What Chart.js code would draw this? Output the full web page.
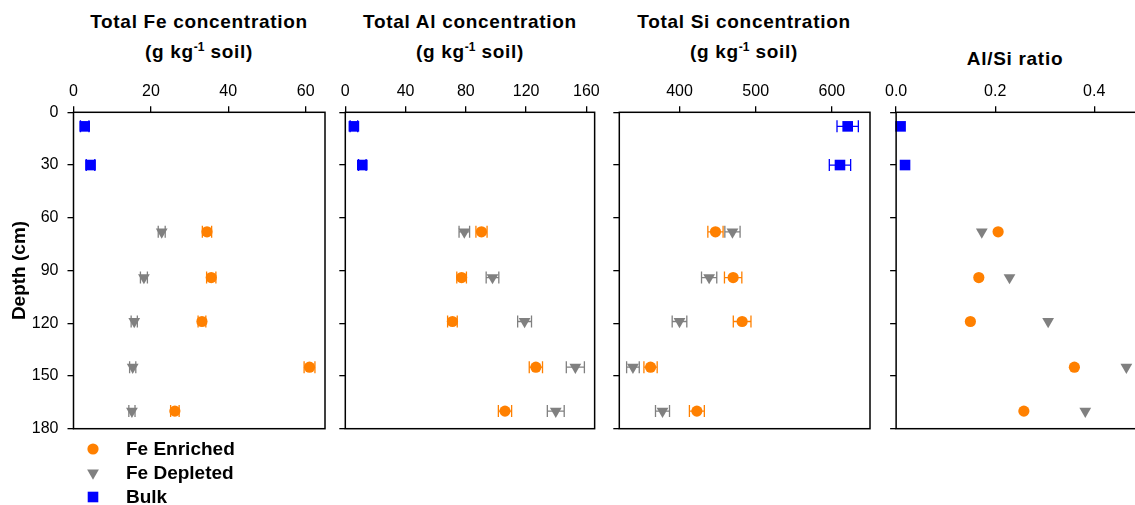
<!DOCTYPE html>
<html>
<head>
<meta charset="utf-8">
<script src="https://cdn.jsdelivr.net/npm/chart.js@4.4.1/dist/chart.umd.min.js"></script>
<style>
html,body{margin:0;padding:0;background:#fff;overflow:hidden;width:1135px;height:505px;position:relative;}
canvas{position:absolute;top:0;}
.ttl{position:absolute;font-family:"Liberation Sans",Arial,sans-serif;font-weight:bold;font-size:19px;line-height:30px;text-align:center;color:#000;white-space:nowrap;letter-spacing:0.7px;transform:translateX(-50%);}
.ttl sup{font-size:12px;line-height:0;vertical-align:7px;letter-spacing:0;}
</style>
</head>
<body>
<div class="ttl" style="left:199px;top:7px;">Total Fe concentration<br>(g kg<sup>-1</sup> soil)</div>
<div class="ttl" style="left:470px;top:7px;">Total Al concentration<br>(g kg<sup>-1</sup> soil)</div>
<div class="ttl" style="left:744px;top:7px;">Total Si concentration<br>(g kg<sup>-1</sup> soil)</div>
<div class="ttl" style="left:1015px;top:44px;">Al/Si ratio</div>
<canvas id="c1" width="335" height="505" style="left:0px;width:335px;height:505px;"></canvas>
<canvas id="c2" width="275" height="505" style="left:330px;width:275px;height:505px;"></canvas>
<canvas id="c3" width="275" height="505" style="left:605px;width:275px;height:505px;"></canvas>
<canvas id="c4" width="275" height="505" style="left:880px;width:275px;height:505px;"></canvas>
<script>
// ---------- data ----------
const seriesNames = ['Fe Enriched', 'Fe Depleted', 'Bulk'];
const depthBulk = [8, 30];
const depthSoil = [68, 94, 119, 145, 170];
const depthTicks = [0, 30, 60, 90, 120, 150, 180];

const feTicks = [0, 20, 40, 60];
const feEnriched = [34.5, 35.6, 33.2, 61.0, 26.2];
const feEnrichedErr = [1.2, 1.2, 1.0, 1.4, 1.1];
const feDepleted = [22.8, 18.2, 15.7, 15.3, 15.1];
const feDepletedErr = [0.9, 0.9, 0.8, 0.8, 0.8];
const feBulk = [2.9, 4.4];
const feBulkErr = [1.1, 1.1];

const alTicks = [0, 40, 80, 120, 160];
const alEnriched = [90.4, 77.2, 71.1, 126.5, 106.0];
const alEnrichedErr = [3.7, 3.2, 3.2, 4.4, 4.4];
const alDepleted = [79.0, 97.7, 119.0, 152.7, 139.7];
const alDepletedErr = [3.5, 4.2, 4.6, 6.0, 5.6];
const alBulk = [5.7, 11.3];
const alBulkErr = [2.5, 2.5];

const siTicks = [400, 500, 600];
const siEnriched = [447.2, 470.4, 482.2, 362.0, 422.8];
const siEnrichedErr = [10.0, 11.4, 11.6, 8.7, 9.8];
const siDepleted = [469.5, 438.9, 400.0, 338.9, 377.7];
const siDepletedErr = [10.0, 10.0, 9.6, 8.3, 9.2];
const siBulk = [620.7, 610.6];
const siBulkErr = [14, 14];

const ratioTicks = [0.0, 0.2, 0.4];
const ratioEnriched = [0.206, 0.167, 0.150, 0.360, 0.258];
const ratioDepleted = [0.173, 0.229, 0.307, 0.465, 0.382];
const ratioBulk = [0.009, 0.018];

// ---------- styles ----------
const FONT = '"Liberation Sans", Arial, sans-serif';
const ORANGE = '#FF8000', GRAY = '#808080', BLUE = '#0000FF';
const styleEnriched = {pointStyle: 'circle', pointRadius: 5.6, pointRotation: 0, backgroundColor: ORANGE, borderColor: ORANGE};
const styleDepleted = {pointStyle: 'triangle', pointRadius: 6.8, pointRotation: 180, backgroundColor: GRAY, borderColor: GRAY};
const styleBulk = {pointStyle: 'rect', pointRadius: 7.5, pointRotation: 0, backgroundColor: BLUE, borderColor: BLUE};

function ds(label, xs, ys, errs, style) {
  return Object.assign({
    label: label,
    data: xs.map((v, i) => ({x: v, y: ys[i]})),
    err: errs,
    borderWidth: 0,
    pointBorderWidth: 0,
    clip: false
  }, style);
}

const errorBars = {
  id: 'errorBars',
  beforeDatasetsDraw(chart) {
    const ctx = chart.ctx, xs = chart.scales.x;
    chart.data.datasets.forEach((d, i) => {
      if (!d.err) return;
      const meta = chart.getDatasetMeta(i);
      ctx.save();
      ctx.strokeStyle = d.borderColor;
      ctx.lineWidth = 1.3;
      d.data.forEach((p, j) => {
        const e = d.err[j];
        if (!e) return;
        const y = meta.data[j].y;
        const x1 = xs.getPixelForValue(p.x - e), x2 = xs.getPixelForValue(p.x + e);
        ctx.beginPath();
        ctx.moveTo(x1, y); ctx.lineTo(x2, y);
        ctx.moveTo(x1, y - 6); ctx.lineTo(x1, y + 6);
        ctx.moveTo(x2, y - 6); ctx.lineTo(x2, y + 6);
        ctx.stroke();
      });
      ctx.restore();
    });
  }
};

const frame = {
  id: 'frame',
  afterDraw(chart) {
    const a = chart.chartArea, ctx = chart.ctx;
    ctx.save();
    ctx.strokeStyle = '#000';
    ctx.lineWidth = 1.5;
    ctx.strokeRect(a.left, a.top, a.right - a.left, a.bottom - a.top);
    ctx.restore();
  }
};

function drawMarker(ctx, style, x, y) {
  ctx.save();
  ctx.fillStyle = style.backgroundColor;
  ctx.beginPath();
  const r = style.pointRadius;
  if (style.pointStyle === 'circle') {
    ctx.arc(x, y, r, 0, Math.PI * 2);
  } else if (style.pointStyle === 'triangle') {
    ctx.moveTo(x, y + r);
    ctx.lineTo(x - r * Math.sin(Math.PI / 3), y - r / 2);
    ctx.lineTo(x + r * Math.sin(Math.PI / 3), y - r / 2);
    ctx.closePath();
  } else {
    const s = r * Math.SQRT1_2;
    ctx.rect(x - s, y - s, 2 * s, 2 * s);
  }
  ctx.fill();
  ctx.restore();
}

const legendPlugin = {
  id: 'sideLegend',
  afterDraw(chart) {
    const ctx = chart.ctx;
    const rows = [449, 473, 497];
    chart.data.datasets.forEach((d, i) => {
      drawMarker(ctx, d, 93, rows[i]);
      ctx.save();
      ctx.fillStyle = '#000';
      ctx.font = 'bold 19px ' + FONT;
      ctx.textBaseline = 'middle';
      ctx.textAlign = 'left';
      ctx.fillText(d.label, 126, rows[i] + 1);
      ctx.restore();
    });
  }
};

const PLOT_TOP = 112.3, PLOT_BOTTOM = 428.7, CANVAS_H = 505, XAXIS_H = 30;

function makePanel(o) {
  const datasets = [
    ds(seriesNames[0], o.enriched, depthSoil, o.enrichedErr, styleEnriched),
    ds(seriesNames[1], o.depleted, depthSoil, o.depletedErr, styleDepleted),
    ds(seriesNames[2], o.bulk, depthBulk, o.bulkErr, styleBulk)
  ];
  const yAxisW = o.plotLeft - o.left;
  const padRight = o.left + o.width - o.plotRight;
  const plugins = [errorBars, frame];
  if (o.legend) plugins.push(legendPlugin);
  return new Chart(document.getElementById(o.id), {
    type: 'scatter',
    data: {datasets: datasets},
    plugins: plugins,
    options: {
      responsive: false,
      animation: false,
      events: [],
      devicePixelRatio: 1,
      layout: {padding: {top: PLOT_TOP - XAXIS_H, bottom: CANVAS_H - PLOT_BOTTOM, left: 0, right: padRight}},
      plugins: {legend: {display: false}, tooltip: {enabled: false}, title: {display: false}},
      scales: {
        x: {
          type: 'linear', position: 'top', min: o.xMin, max: o.xMax,
          afterBuildTicks: s => { s.ticks = o.xTicks.map(v => ({value: v})); },
          afterFit: s => { s.height = XAXIS_H; },
          ticks: {
            color: '#000', padding: 5, maxRotation: 0, autoSkip: false,
            font: {family: FONT, size: 16},
            callback: v => o.fmt(v)
          },
          grid: {display: true, drawOnChartArea: false, drawTicks: true, tickLength: 6, color: '#000', lineWidth: 1.3},
          border: {display: false}
        },
        y: {
          type: 'linear', position: 'left', reverse: true, min: 0, max: 180,
          afterBuildTicks: s => { s.ticks = depthTicks.map(v => ({value: v})); },
          afterFit: s => { s.width = yAxisW; },
          ticks: {
            display: !!o.yLabels, color: '#000', padding: 9, autoSkip: false,
            font: {family: FONT, size: 16}
          },
          title: {
            display: !!o.yLabels, text: 'Depth (cm)', color: '#000',
            font: {family: FONT, size: 19, weight: 'bold'},
            padding: {top: 8, bottom: 0}
          },
          grid: {display: true, drawOnChartArea: false, drawTicks: true, tickLength: 6, color: '#000', lineWidth: 1.3},
          border: {display: false}
        }
      }
    }
  });
}

makePanel({id: 'c1', left: 0, width: 335, plotLeft: 73.5, plotRight: 325, xMin: 0, xMax: 65, xTicks: feTicks,
  fmt: v => String(v), enriched: feEnriched, enrichedErr: feEnrichedErr, depleted: feDepleted, depletedErr: feDepletedErr,
  bulk: feBulk, bulkErr: feBulkErr, yLabels: true, legend: true});
makePanel({id: 'c2', left: 330, width: 275, plotLeft: 345.3, plotRight: 596, xMin: 0, xMax: 165.5, xTicks: alTicks,
  fmt: v => String(v), enriched: alEnriched, enrichedErr: alEnrichedErr, depleted: alDepleted, depletedErr: alDepletedErr,
  bulk: alBulk, bulkErr: alBulkErr});
makePanel({id: 'c3', left: 605, width: 275, plotLeft: 619.3, plotRight: 870, xMin: 321, xMax: 650, xTicks: siTicks,
  fmt: v => String(v), enriched: siEnriched, enrichedErr: siEnrichedErr, depleted: siDepleted, depletedErr: siDepletedErr,
  bulk: siBulk, bulkErr: siBulkErr});
makePanel({id: 'c4', left: 880, width: 275, plotLeft: 892.7, plotRight: 1143.7, xMin: 0, xMax: 0.5, xTicks: ratioTicks,
  fmt: v => v.toFixed(1), enriched: ratioEnriched, enrichedErr: null, depleted: ratioDepleted, depletedErr: null,
  bulk: ratioBulk, bulkErr: null});
</script>
</body>
</html>
